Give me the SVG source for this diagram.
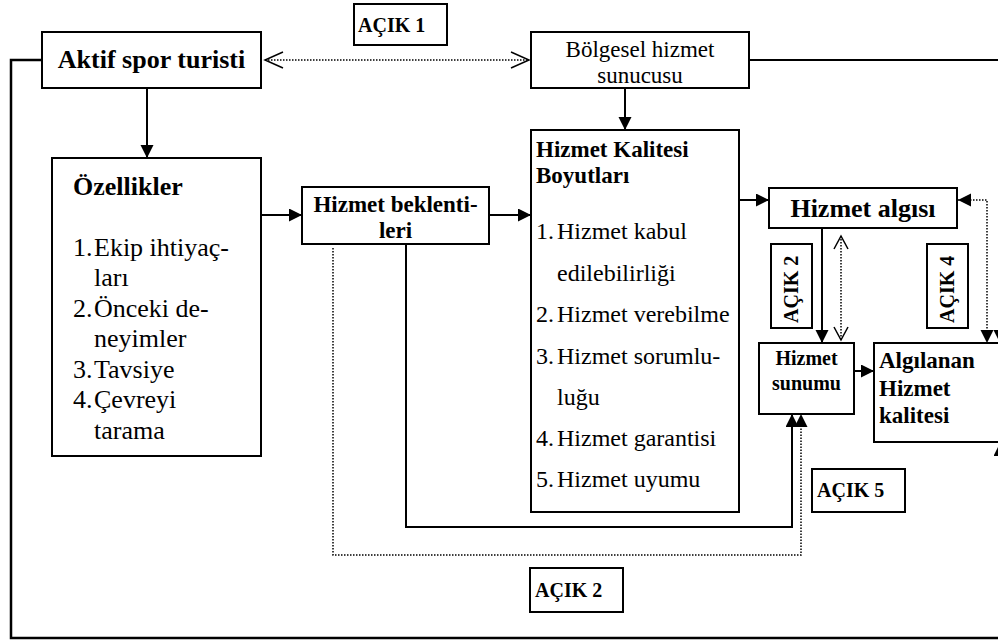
<svg xmlns="http://www.w3.org/2000/svg" width="998" height="643" viewBox="0 0 998 643" font-family="'Liberation Serif', 'Times New Roman', 'DejaVu Serif', serif">
  <style>
    .box { fill: #fff; stroke: #000; stroke-width: 2; }
    .line { fill: none; stroke: #000; stroke-width: 2; }
    .loop { fill: none; stroke: #000; stroke-width: 2.5; }
    .dot { fill: none; stroke: #000; stroke-width: 1.5; stroke-dasharray: 1.5 1.5; }
    .t { font-family: 'Liberation Serif', 'Times New Roman', 'DejaVu Serif', serif; fill: #000; }
    .b { font-weight: bold; }
    .mid { text-anchor: middle; }
    .gap { font-weight: bold; font-size: 20px; }
  </style>
  <defs>
    <marker id="fill" markerUnits="userSpaceOnUse" markerWidth="14" markerHeight="14" refX="13" refY="6.5" orient="auto-start-reverse">
      <path d="M0,0 L13,6.5 L0,13 z" fill="#000"/>
    </marker>
    <marker id="open" markerUnits="userSpaceOnUse" markerWidth="22" markerHeight="20" refX="19" refY="9" orient="auto-start-reverse">
      <path d="M1,1 L19,9 L1,17" fill="none" stroke="#000" stroke-width="1.5"/>
    </marker>
    <marker id="openS" markerUnits="userSpaceOnUse" markerWidth="16" markerHeight="18" refX="14" refY="8" orient="auto-start-reverse">
      <path d="M1,1 L14,8 L1,15" fill="none" stroke="#000" stroke-width="1.5"/>
    </marker>
  </defs>

  <g id="connectors">
    <line class="line" x1="147" y1="88" x2="147" y2="158" marker-end="url(#fill)"/>
    <line class="dot" x1="265" y1="60" x2="529" y2="60" marker-start="url(#open)" marker-end="url(#open)"/>
    <polyline class="loop" points="42,60 11,60 11,638 1000,638 1000,443" marker-end="url(#fill)"/>
    <line class="line" x1="625" y1="88" x2="625" y2="130" marker-end="url(#fill)"/>
    <polyline class="line" points="749,60 1000,60 1000,343" marker-end="url(#fill)"/>
    <line class="line" x1="261" y1="215" x2="302" y2="215" marker-end="url(#fill)"/>
    <line class="line" x1="489" y1="215" x2="531" y2="215" marker-end="url(#fill)"/>
    <line class="line" x1="739" y1="200" x2="769" y2="200" marker-end="url(#fill)"/>
    <line class="line" x1="822" y1="228" x2="822" y2="343" marker-end="url(#fill)"/>
    <line class="dot" x1="841" y1="236" x2="841" y2="340" marker-start="url(#openS)" marker-end="url(#openS)"/>
    <polyline class="dot" points="958,200 987,200 987,343" marker-start="url(#fill)" marker-end="url(#fill)"/>
    <polyline class="line" points="406,244 406,527 792,527 792,414" marker-end="url(#fill)"/>
    <polyline class="dot" points="333,248 333,555 801,555 801,414" marker-end="url(#fill)"/>
    <line class="line" x1="854" y1="371" x2="874" y2="371" marker-end="url(#fill)"/>
  </g>

  <g id="aktif">
    <rect class="box" x="42" y="32" width="219" height="56"/>
    <text class="t b mid" x="151.5" y="68" font-size="26">Aktif spor turisti</text>
  </g>

  <g id="acik1">
    <rect class="box" x="354" y="4" width="93" height="41"/>
    <text class="t gap" x="358" y="32">AÇIK 1</text>
  </g>

  <g id="bolgesel">
    <rect class="box" x="531" y="32" width="218" height="56"/>
    <text class="t mid" x="640" y="57" font-size="23">Bölgesel hizmet</text>
    <text class="t mid" x="640" y="83" font-size="23">sunucusu</text>
  </g>

  <g id="ozellikler">
    <rect class="box" x="52" y="158" width="209" height="298"/>
    <text class="t b" x="73" y="195" font-size="26">Özellikler</text>
    <g class="t" font-size="26">
      <text x="73" y="256">1.</text><text x="94" y="256">Ekip ihtiyaç-</text>
      <text x="94" y="286">ları</text>
      <text x="73" y="317">2.</text><text x="94" y="317">Önceki de-</text>
      <text x="94" y="347">neyimler</text>
      <text x="73" y="378">3.</text><text x="94" y="378">Tavsiye</text>
      <text x="73" y="408">4.</text><text x="94" y="408">Çevreyi</text>
      <text x="94" y="439">tarama</text>
    </g>
  </g>

  <g id="beklentiler">
    <rect class="box" x="302" y="187" width="187" height="57"/>
    <text class="t b mid" x="395.5" y="212" font-size="23">Hizmet beklenti-</text>
    <text class="t b mid" x="395.5" y="238" font-size="23">leri</text>
  </g>

  <g id="boyutlar">
    <rect class="box" x="531" y="130" width="208" height="382"/>
    <text class="t b" x="536" y="157" font-size="23">Hizmet Kalitesi</text>
    <text class="t b" x="536" y="183" font-size="23">Boyutları</text>
    <g class="t" font-size="24">
      <text x="536" y="239">1.</text><text x="557" y="239">Hizmet kabul</text>
      <text x="557" y="281">edilebilirliği</text>
      <text x="536" y="322">2.</text><text x="557" y="322">Hizmet verebilme</text>
      <text x="536" y="364">3.</text><text x="557" y="364">Hizmet sorumlu-</text>
      <text x="557" y="405">luğu</text>
      <text x="536" y="446">4.</text><text x="557" y="446">Hizmet garantisi</text>
      <text x="536" y="487">5.</text><text x="557" y="487">Hizmet uyumu</text>
    </g>
  </g>

  <g id="algi">
    <rect class="box" x="769" y="188" width="188" height="40"/>
    <text class="t b mid" x="863" y="217" font-size="26">Hizmet algısı</text>
  </g>

  <g id="acik2-dikey">
    <rect class="box" x="771" y="244" width="41" height="84"/>
    <text class="t gap" transform="translate(798,323) rotate(-90)">AÇIK 2</text>
  </g>

  <g id="acik4">
    <rect class="box" x="927" y="244" width="41" height="84"/>
    <text class="t gap" transform="translate(954,323) rotate(-90)">AÇIK 4</text>
  </g>

  <g id="sunum">
    <rect class="box" x="759" y="343" width="95" height="71"/>
    <text class="t b mid" x="806.5" y="365" font-size="20">Hizmet</text>
    <text class="t b mid" x="806.5" y="390" font-size="20">sunumu</text>
  </g>

  <g id="algilanan">
    <rect class="box" x="874" y="343" width="200" height="99"/>
    <text class="t b" x="879" y="368" font-size="23">Algılanan</text>
    <text class="t b" x="879" y="396" font-size="23">Hizmet</text>
    <text class="t b" x="879" y="423" font-size="23">kalitesi</text>
  </g>

  <g id="acik5">
    <rect class="box" x="812" y="469" width="93" height="43"/>
    <text class="t gap" x="817" y="497">AÇIK 5</text>
  </g>

  <g id="acik2">
    <rect class="box" x="530" y="568" width="93" height="44"/>
    <text class="t gap" x="535" y="597">AÇIK 2</text>
  </g>
</svg>
